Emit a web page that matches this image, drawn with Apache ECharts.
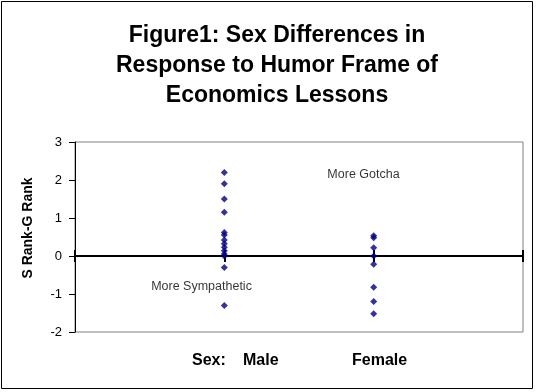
<!DOCTYPE html>
<html><head><meta charset="utf-8">
<script src="https://cdn.jsdelivr.net/npm/echarts@6/dist/echarts.min.js"></script>
<style>html,body{margin:0;padding:0;background:#fff}#c{width:539px;height:392px}</style>
</head><body><div id="c"></div>
<script>
const titleLines = ['Figure1: Sex Differences in', 'Response to Humor Frame of', 'Economics Lessons'];
const groups = ['Male', 'Female'];
const groupX = [1, 2];
const maleValues = [2.2, 1.9, 1.5, 1.15, 0.62, 0.55, 0.42, 0.32, 0.23, 0.14, 0.05, 0.0, -0.3, -1.3];
const femaleValues = [0.53, 0.48, 0.22, 0.0, -0.22, -0.82, -1.2, -1.52];
const yTicks = [-2, -1, 0, 1, 2, 3];
const yName = 'S Rank-G Rank';
const notes = [{text: 'More Gotcha', x: 1.69, y: 2.15}, {text: 'More Sympathetic', x: 0.51, y: -0.8}];

const FONT = 'Liberation Sans, Arial, sans-serif';
const chart = echarts.init(document.getElementById('c'), null, {renderer: 'canvas'});
const toPts = (xv, vals) => vals.map(v => [xv, v]);
const marker = {symbol: 'diamond', symbolSize: 7, itemStyle: {color: '#000080'}};
const gridPos = {left: 75, top: 142, right: 16, bottom: 60};
const xBase = {
  type: 'value', min: 0, max: 3, interval: 1,
  axisLine: {onZero: true, lineStyle: {color: '#000', width: 2}},
  axisLabel: {show: false}, splitLine: {show: false}
};
const yRange = {type: 'value', min: yTicks[0], max: yTicks[yTicks.length - 1], interval: 1};
chart.setOption({
  animation: false,
  backgroundColor: '#fff',
  title: {
    text: titleLines.join('\n'), left: 272, top: 16, textAlign: 'center',
    textStyle: {fontFamily: FONT, fontWeight: 'bold', fontSize: 23, lineHeight: 30, color: '#000'}
  },
  grid: [
    Object.assign({show: true, borderColor: '#808080', borderWidth: 1}, gridPos),
    Object.assign({show: false}, gridPos)
  ],
  xAxis: [
    Object.assign({}, xBase, {gridIndex: 0, axisTick: {show: true, inside: false, length: 6, lineStyle: {color: '#000', width: 2}}}),
    Object.assign({}, xBase, {gridIndex: 1, axisTick: {show: true, inside: true, length: 6, lineStyle: {color: '#000', width: 2}}})
  ],
  yAxis: [
    Object.assign({}, yRange, {
      gridIndex: 0,
      axisLine: {show: true, onZero: false, lineStyle: {color: '#000', width: 1}},
      axisTick: {show: true, length: 6, lineStyle: {color: '#000'}},
      axisLabel: {fontFamily: FONT, fontSize: 13, color: '#000', margin: 13},
      splitLine: {show: false}
    }),
    Object.assign({}, yRange, {gridIndex: 1, show: false})
  ],
  series: [
    Object.assign({type: 'scatter', name: groups[0], data: toPts(groupX[0], maleValues), z: 5}, marker),
    Object.assign({type: 'scatter', name: groups[1], data: toPts(groupX[1], femaleValues), z: 5}, marker),
    {type: 'scatter', data: notes.map(n => [n.x, n.y]), symbolSize: 0,
     label: {show: true, position: 'right', distance: 0, formatter: p => notes[p.dataIndex].text,
       fontFamily: FONT, fontSize: 12.5, color: '#000'}, silent: true}
  ],
  graphic: [
    {type: 'rect', shape: {x: 1.5, y: 1.5, width: 531, height: 387}, style: {fill: null, stroke: '#000', lineWidth: 1}, silent: true},
    {type: 'text', x: 28, y: 228, rotation: Math.PI / 2,
     style: {text: yName, font: 'bold 14px ' + FONT, fill: '#000', textAlign: 'center', textVerticalAlign: 'middle'}},
    {type: 'text', x: 192, y: 361, style: {text: 'Sex:', font: 'bold 16px ' + FONT, fill: '#000', textVerticalAlign: 'middle'}},
    {type: 'text', x: 243, y: 361, style: {text: groups[0], font: 'bold 16px ' + FONT, fill: '#000', textVerticalAlign: 'middle'}},
    {type: 'text', x: 352, y: 361, style: {text: groups[1], font: 'bold 16px ' + FONT, fill: '#000', textVerticalAlign: 'middle'}}
  ]
});
</script></body></html>
